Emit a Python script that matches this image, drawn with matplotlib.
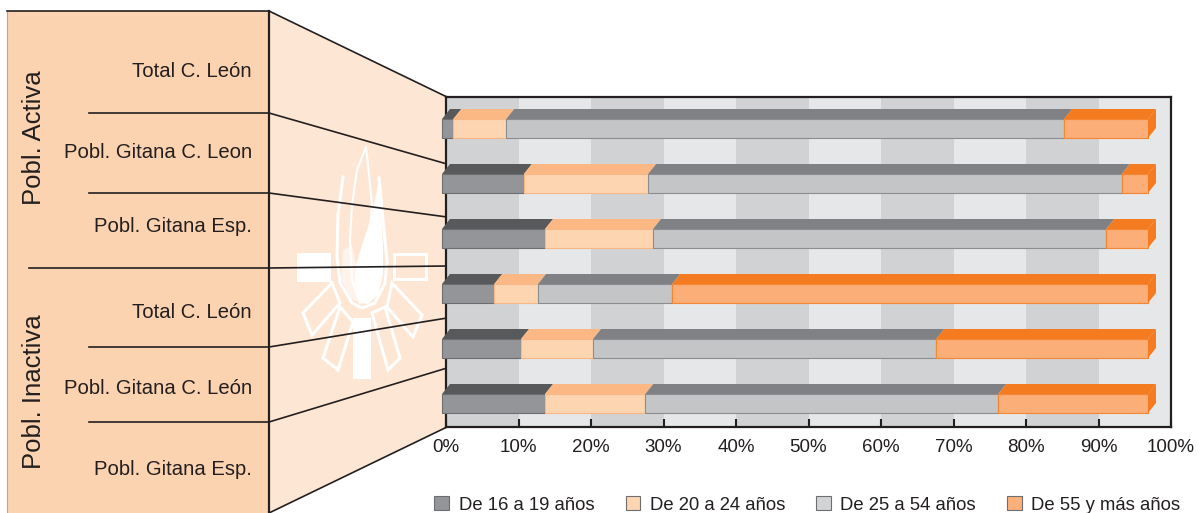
import matplotlib.pyplot as plt
from matplotlib.patches import Polygon, Patch

plt.rcParams['font.family'] = ['Liberation Sans', 'DejaVu Sans']

# data (percent of each population by age group)
groups = ["Pobl. Activa", "Pobl. Inactiva"]
rows = ["Total C. León", "Pobl. Gitana C. Leon", "Pobl. Gitana Esp.",
        "Total C. León", "Pobl. Gitana C. León", "Pobl. Gitana Esp."]
series = ["De 16 a 19 años", "De 20 a 24 años", "De 25 a 54 años", "De 55 y más años"]
age_16_19 = [1.6, 11.6, 14.6, 7.4, 11.2, 14.6]
age_20_24 = [7.5, 17.6, 15.3, 6.2, 10.2, 14.2]
age_25_54 = [79.0, 67.1, 64.2, 19.0, 48.6, 50.0]
age_55_up = [11.9, 3.7, 5.9, 67.4, 30.0, 21.2]
ticks = list(range(0, 101, 10))
tick_labels = [f"{t}%" for t in ticks]

values = [age_16_19, age_20_24, age_25_54, age_55_up]
front_col = ["#939598", "#fdd5b1", "#c4c5c7", "#fbae78"]
top_col = ["#58595b", "#fbb884", "#808184", "#f47b20"]
edge_col = ["#6d6e71", "#f7b787", "#8c8d90", "#f58634"]
legend_col = ["#939598", "#fdd5b1", "#d1d3d4", "#fbb07a"]
ink = "#231f20"

W, H = 1200, 513
fig = plt.figure(figsize=(12, 5.13), dpi=100)


def fx(px):
    return px / W


def fy(py):
    return 1 - py / H


# background decoration in pixel coordinates
bg = fig.add_axes([0, 0, 1, 1])
bg.set_xlim(0, W)
bg.set_ylim(H, 0)
bg.axis("off")

bg.add_patch(Polygon([(269, 11), (447, 97), (447, 427), (269, 513)],
                     closed=True, facecolor="#fee6d4", edgecolor="none"))
bg.add_patch(Polygon([(7, 11), (269, 11), (269, 513), (7, 513)],
                     closed=True, facecolor="#fcd3b0", edgecolor="none"))

# watermark logo (white)
wc = "white"
bg.add_patch(Polygon([(297, 253), (331, 253), (331, 282), (297, 282)], facecolor=wc, edgecolor="none"))
bg.add_patch(Polygon([(394, 254), (426, 254), (426, 279), (394, 279)], facecolor="none", edgecolor=wc, lw=2.2))
bg.add_patch(Polygon([(379, 180), (372, 215), (362, 245), (356, 265), (354, 285), (360, 303), (368, 304),
                      (378, 295), (383, 275), (383, 245), (381, 210)], facecolor=wc, edgecolor="none"))
bg.add_patch(Polygon([(343, 250), (352, 245), (356, 265), (354, 285), (360, 303), (350, 298), (341, 280)],
                     facecolor="#fff4ec", edgecolor="none"))
bg.plot([343, 338, 337, 340, 352, 362, 375, 385, 387, 385, 382, 379],
        [177, 215, 257, 283, 303, 308, 303, 283, 262, 240, 210, 178], color=wc, lw=2.2)
bg.plot([366, 357, 352, 350, 352, 360], [147, 170, 205, 240, 280, 303], color=wc, lw=1.5)
bg.plot([366, 369, 372, 370], [147, 175, 205, 230], color=wc, lw=1.5)
bg.add_patch(Polygon([(353, 318), (371, 318), (371, 379), (353, 379)], facecolor=wc, edgecolor="none"))
for ray in [[(303, 313), (332, 283), (340, 303), (312, 335)],
            [(340, 307), (353, 322), (338, 370), (323, 358)],
            [(372, 313), (385, 307), (400, 358), (388, 370)],
            [(392, 283), (422, 315), (413, 337), (387, 307)]]:
    bg.add_patch(Polygon(ray, closed=True, facecolor="none", edgecolor=wc, lw=2.2))

# panel lines
lw = 1.2
bg.plot([7, 7], [11, 513], color="#b8a898", lw=0.8)
bg.plot([7, 269], [11, 11], color=ink, lw=lw)
bg.plot([269, 269], [11, 513], color=ink, lw=1.6)
for y in [113, 193, 347, 422]:
    bg.plot([89, 269], [y, y], color=ink, lw=lw)
bg.plot([29, 269], [268, 268], color=ink, lw=lw)
for y_left, y_right in [(11, 97), (113, 164), (193, 217), (268, 266), (347, 318), (422, 368), (513, 427)]:
    bg.plot([269, 447], [y_left, y_right], color=ink, lw=lw)

# row and group labels
label_base = [77, 158, 232, 318, 394, 475]
for name, yb in zip(rows, label_base):
    bg.text(252, yb, name, ha="right", va="baseline", fontsize=14.6, color=ink)
for name, yc in zip(groups, [137.5, 391.5]):
    bg.text(34, yc, name, rotation=90, ha="center", va="center", fontsize=18.5, color=ink)

# back wall of the chart
back = fig.add_axes([fx(446), fy(427), (1171 - 446) / W, (427 - 97) / H])
back.set_xlim(0, 100)
back.set_ylim(0, 1)
for k in range(10):
    back.axvspan(ticks[k], ticks[k + 1], color="#d1d2d4" if k % 2 == 0 else "#e6e7e8", lw=0)
for s in back.spines.values():
    s.set_color(ink)
    s.set_linewidth(1.6)
back.set_xticks(ticks, tick_labels)
back.set_yticks([])
back.tick_params(axis="x", direction="in", length=6, width=1.5, pad=9,
                 labelsize=13.5, color=ink, labelcolor=ink)

# front plane with the 3D bars
front = fig.add_axes([fx(442), fy(427), 706 / W, (427 - 97) / H])
front.patch.set_alpha(0)
front.axis("off")
front.set_xlim(0, 100)
pitch, y_first = 55, 128.5
front.set_ylim((427 - y_first) / pitch, (97 - y_first) / pitch)
h = 19 / pitch
dx = 8 * 100 / 706
dy = 10 / pitch

for i in range(len(rows)):
    left = 0
    for j, vals in enumerate(values):
        w = vals[i]
        front.barh(i, w, left=left, height=h, color=front_col[j],
                   edgecolor=edge_col[j], linewidth=0.8, clip_on=False)
        top = i - h / 2
        front.add_patch(Polygon([(left, top), (left + w, top), (left + w + dx, top - dy), (left + dx, top - dy)],
                                closed=True, facecolor=top_col[j], edgecolor="none", clip_on=False))
        left += w
    top = i - h / 2
    front.add_patch(Polygon([(left, top), (left + dx, top - dy), (left + dx, top + h - dy), (left, top + h)],
                            closed=True, facecolor=top_col[-1], edgecolor="none", clip_on=False))

handles = [Patch(facecolor=c, edgecolor="#6d6e71", linewidth=0.8) for c in legend_col]
fig.legend(handles, series, loc="center", bbox_to_anchor=(fx(807.5), fy(505)), ncol=4,
           frameon=False, fontsize=13.3, handlelength=0.8, handleheight=0.8,
           handletextpad=0.5, columnspacing=1.7, labelcolor=ink,
           borderpad=0, borderaxespad=0)

fig.savefig("out.png", dpi=100)
